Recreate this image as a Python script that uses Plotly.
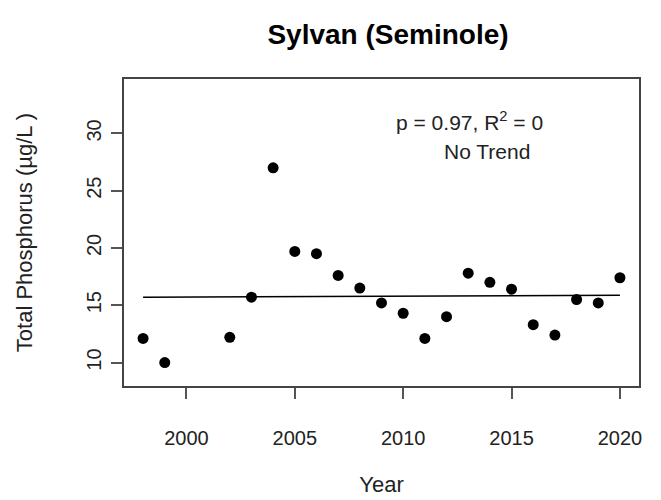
import plotly.graph_objects as go

years = [1998, 1999, 2002, 2003, 2004, 2005, 2006, 2007, 2008, 2009, 2010,
         2011, 2012, 2013, 2014, 2015, 2016, 2017, 2018, 2019, 2020]
tp = [12.1, 10.0, 12.2, 15.7, 27.0, 19.7, 19.5, 17.6, 16.5, 15.2, 14.3,
      12.1, 14.0, 17.8, 17.0, 16.4, 13.3, 12.4, 15.5, 15.2, 17.4]
trend_years = [1998, 2020]
trend_vals = [15.70, 15.87]
x_ticks = [2000, 2005, 2010, 2015, 2020]
y_ticks = [10, 15, 20, 25, 30]

title_text = "Sylvan (Seminole)"
stat_line1 = "p = 0.97, R<sup>2</sup> = 0"
stat_line2 = "No Trend"
x_title = "Year"
y_title = "Total Phosphorus (\u00b5g/L )"

FONT = "Liberation Sans, Arial, sans-serif"
TXT = "#222222"

fig = go.Figure()
fig.add_trace(go.Scatter(x=trend_years, y=trend_vals, mode="lines",
                         line=dict(color="black", width=1.5), hoverinfo="skip"))
fig.add_trace(go.Scatter(x=years, y=tp, mode="markers",
                         marker=dict(color="black", size=11)))

fig.add_annotation(x=2013.08, y=31.1, xref="x", yref="y", text=stat_line1,
                   showarrow=False, font=dict(family=FONT, size=21, color=TXT))
fig.add_annotation(x=2013.87, y=28.4, xref="x", yref="y", text=stat_line2,
                   showarrow=False, font=dict(family=FONT, size=21, color=TXT))

fig.update_layout(
    width=661, height=500,
    margin=dict(l=124, r=22, t=79, b=114, autoexpand=False),
    paper_bgcolor="white", plot_bgcolor="white",
    showlegend=False,
    font=dict(family=FONT, size=21, color=TXT),
    title=dict(text="<b>" + title_text + "</b>", x=388 / 661, xanchor="center",
               y=1 - 34 / 500, yanchor="middle",
               font=dict(family=FONT, size=28, color="black")),
    xaxis=dict(range=[1997.12, 2020.88], tickvals=x_ticks,
               ticks="outside", ticklen=11, tickcolor="#555555", tickwidth=1.5,
               ticklabelstandoff=22, tickfont=dict(size=20),
               showline=True, mirror=True, linecolor="#444444", linewidth=1.5,
               showgrid=False, zeroline=False,
               title=dict(text=x_title, standoff=29, font=dict(size=22))),
    yaxis=dict(range=[7.95, 34.75], tickvals=y_ticks, tickangle=-90,
               ticks="outside", ticklen=11, tickcolor="#555555", tickwidth=1.5,
               ticklabelstandoff=2, tickfont=dict(size=20),
               showline=True, mirror=True, linecolor="#444444", linewidth=1.5,
               showgrid=False, zeroline=False,
               title=dict(text=y_title, standoff=45, font=dict(size=22))),
)

fig.write_html("out.html",
               config={"displayModeBar": False},
               post_script="document.body.style.margin='0';"
                           "document.body.style.overflow='hidden';")
